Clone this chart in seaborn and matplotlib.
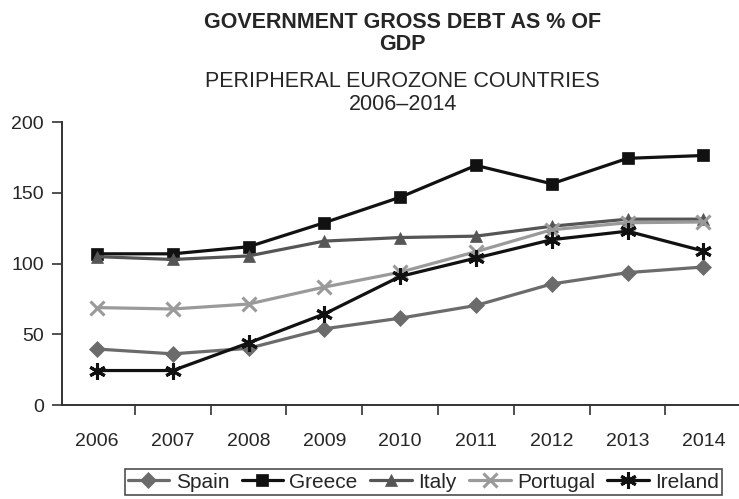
import matplotlib
matplotlib.use("Agg")
import matplotlib.pyplot as plt
import seaborn as sns
import pandas as pd
from matplotlib.ticker import FixedLocator

years = ["2006", "2007", "2008", "2009", "2010", "2011", "2012", "2013", "2014"]
spain = [39.7, 36.3, 40.2, 54.0, 61.5, 70.5, 85.7, 93.7, 97.7]
greece = [107.0, 107.0, 112.0, 129.0, 147.0, 169.5, 156.5, 174.5, 176.5]
italy = [105.0, 103.0, 105.5, 116.0, 118.5, 119.5, 126.5, 131.5, 131.5]
portugal = [69.0, 68.0, 71.5, 83.5, 94.0, 108.5, 124.0, 129.0, 129.5]
ireland = [24.5, 24.5, 44.0, 64.5, 91.0, 104.0, 117.0, 123.0, 109.0]

series = {"Spain": spain, "Greece": greece, "Italy": italy,
          "Portugal": portugal, "Ireland": ireland}
rows = []
for name, vals in series.items():
    for i, v in enumerate(vals):
        rows.append({"x": i, "value": v, "country": name})
df = pd.DataFrame(rows)

sns.set_style("white")
plt.rcParams["font.family"] = ["Liberation Sans", "DejaVu Sans"]

palette = {"Spain": "#6b6b6b", "Greece": "#111111", "Italy": "#555555",
           "Portugal": "#9a9a9a", "Ireland": "#111111"}
markers = {"Spain": "D", "Greece": "s", "Italy": "^", "Portugal": "x",
           "Ireland": (6, 2, 0)}
msizes = {"Spain": 8, "Greece": 9, "Italy": 9, "Portugal": 10, "Ireland": 12}

fig = plt.figure(figsize=(7.39, 4.99), dpi=100)
ax = fig.add_axes([0.084, 0.188, 0.916, 0.567])

for name in series:
    sub = df[df.country == name]
    mk = markers[name]
    lw_m = 2.2 if mk in ("x", (6, 2, 0)) else 0.5
    sns.lineplot(data=sub, x="x", y="value", ax=ax, color=palette[name],
                 marker=mk, markersize=msizes[name], linewidth=2.3,
                 markeredgewidth=lw_m, markeredgecolor=palette[name],
                 markerfacecolor=palette[name], label=name)

ax.set_xlim(-0.46, 8.47)
ax.set_ylim(0, 200)
ax.set_yticks([0, 50, 100, 150, 200])
ax.set_xticks(range(len(years)))
ax.set_xticklabels(years)
ax.xaxis.set_minor_locator(FixedLocator([i + 0.5 for i in range(-1, 9)]))
ax.tick_params(axis="x", which="major", length=0, labelsize=14, pad=20)
ax.tick_params(axis="x", which="minor", length=7, width=1.2, color="#333333", direction="out", bottom=True)
ax.tick_params(axis="y", length=7, width=1.2, color="#333333", labelsize=14, direction="out", left=True, pad=6)
for s in ["top", "right"]:
    ax.spines[s].set_visible(False)
for s in ["left", "bottom"]:
    ax.spines[s].set_color("#333333")
    ax.spines[s].set_linewidth(1.4)
ax.set_xlabel("")
ax.set_ylabel("")

fig.text(0.545, 0.975, "GOVERNMENT GROSS DEBT AS % OF\nGDP", ha="center", va="top",
         fontsize=15.5, fontweight="bold", linespacing=1.05)
fig.text(0.545, 0.857, "PERIPHERAL EUROZONE COUNTRIES\n2006\u20132014", ha="center", va="top",
         fontsize=15.5, linespacing=1.1)

ax.get_legend().remove()
handles, labels = ax.get_legend_handles_labels()
leg = fig.legend(handles, labels, loc="center", bbox_to_anchor=(0.573, 0.034), ncol=5,
                 frameon=True, fancybox=False, fontsize=15, handlelength=2.0,
                 handletextpad=0.3, columnspacing=0.6, borderpad=0.15, borderaxespad=0)
leg.get_frame().set_edgecolor("#222222")
leg.get_frame().set_linewidth(1.2)

fig.savefig("out.png", dpi=100)
